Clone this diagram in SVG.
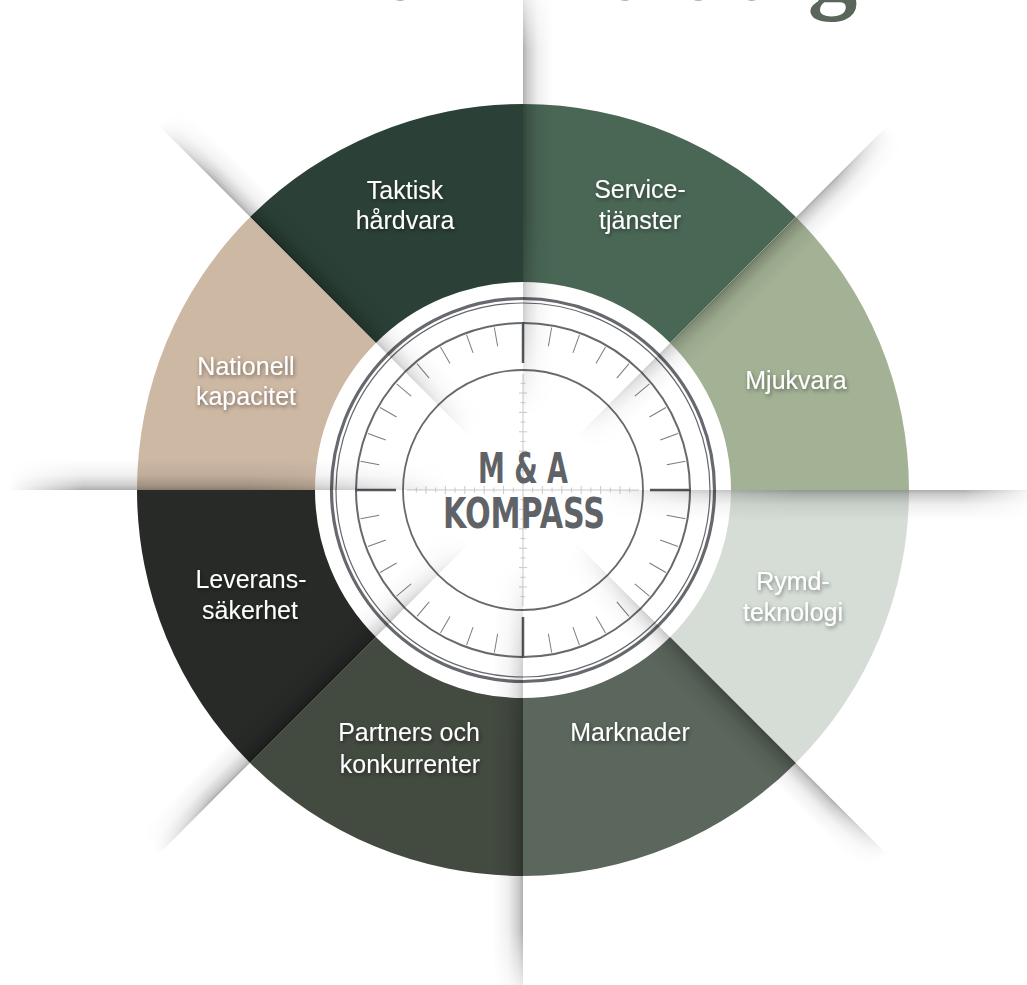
<svg xmlns="http://www.w3.org/2000/svg" xmlns:xlink="http://www.w3.org/1999/xlink" width="1027" height="985" viewBox="0 0 1027 985">
<style>
.lbl{font-family:"Liberation Sans",Arial,sans-serif;font-size:25px;fill:#ffffff;text-anchor:middle;filter:url(#ts)}
.ctr{font-family:"DejaVu Sans Condensed","DejaVu Sans",sans-serif;font-weight:bold;font-size:42px;fill:#5f6368;text-anchor:middle}
.ring{fill:none;stroke:#66696d}
.tick{stroke:#7a7c7f;stroke-width:1}
.card{stroke:#55595d;stroke-width:2.5}
.xh{stroke:#c9c9c9;stroke-width:1;fill:none}
</style>
<defs>
<filter id="ts" x="-20%" y="-40%" width="140%" height="180%">
<feDropShadow dx="1" dy="2" stdDeviation="2" flood-color="#000" flood-opacity="0.45"/>
</filter>
<linearGradient id="sg" x1="0" y1="0" x2="1" y2="0">
<stop offset="0" stop-color="#000" stop-opacity="0.32"/>
<stop offset="0.15" stop-color="#000" stop-opacity="0.2"/>
<stop offset="0.5" stop-color="#000" stop-opacity="0.06"/>
<stop offset="1" stop-color="#000" stop-opacity="0"/>
</linearGradient>
<linearGradient id="mg" x1="0" y1="0" x2="0" y2="1">
<stop offset="0" stop-color="#fff" stop-opacity="0"/>
<stop offset="0.17" stop-color="#fff" stop-opacity="1"/>
<stop offset="0.55" stop-color="#fff" stop-opacity="1"/>
<stop offset="0.8" stop-color="#fff" stop-opacity="0.55"/>
<stop offset="1" stop-color="#fff" stop-opacity="0"/>
</linearGradient>
<mask id="sm" maskContentUnits="objectBoundingBox">
<rect x="0" y="0" width="1" height="1" fill="url(#mg)"/>
</mask>
<rect id="strip" x="0" y="-515" width="30" height="440" fill="url(#sg)" mask="url(#sm)"/>
<line id="tk" class="tick" x1="0" y1="-146" x2="0" y2="-165"/>
<path id="xt" class="xh" d="M9.7 -2.5V2.5M19.4 -4V4M29.1 -2.5V2.5M38.8 -4V4M48.5 -2.5V2.5M58.2 -4V4M67.9 -2.5V2.5M77.6 -4V4M87.3 -2.5V2.5M97 -4V4M106.7 -2.5V2.5M-9.7 -2.5V2.5M-19.4 -4V4M-29.1 -2.5V2.5M-38.8 -4V4M-48.5 -2.5V2.5M-58.2 -4V4M-67.9 -2.5V2.5M-77.6 -4V4M-87.3 -2.5V2.5M-97 -4V4M-106.7 -2.5V2.5M-116 0H116"/>
</defs>

<rect x="0" y="0" width="1027" height="985" fill="#ffffff"/>

<g id="title">
<text x="532" y="-1" font-family="'Liberation Serif',serif" font-weight="bold" font-size="106" fill="#5b665a" text-anchor="middle" textLength="706" lengthAdjust="spacingAndGlyphs">Förvärvsstrategi</text>
</g>

<g id="sectors">
<g id="taktisk-hardvara">
<path d="M375.9 342.9L250.1 217.1A386 386 0 0 1 523 104L523 282A208 208 0 0 0 375.9 342.9Z" fill="#2b4137"/>
</g>
<g id="servicetjanster">
<path d="M523 282L523 104A386 386 0 0 1 795.9 217.1L670.1 342.9A208 208 0 0 0 523 282Z" fill="#4a6756"/>
</g>
<g id="mjukvara">
<path d="M670.1 342.9L795.9 217.1A386 386 0 0 1 909 490L731 490A208 208 0 0 0 670.1 342.9Z" fill="#a3b295"/>
</g>
<g id="rymdteknologi">
<path d="M731 490L909 490A386 386 0 0 1 795.9 762.9L670.1 637.1A208 208 0 0 0 731 490Z" fill="#d6ddd6"/>
</g>
<g id="marknader">
<path d="M670.1 637.1L795.9 762.9A386 386 0 0 1 523 876L523 698A208 208 0 0 0 670.1 637.1Z" fill="#5b665c"/>
</g>
<g id="partners">
<path d="M523 698L523 876A386 386 0 0 1 250.1 762.9L375.9 637.1A208 208 0 0 0 523 698Z" fill="#434a40"/>
</g>
<g id="leveranssakerhet">
<path d="M375.9 637.1L250.1 762.9A386 386 0 0 1 137 490L315 490A208 208 0 0 0 375.9 637.1Z" fill="#272a26"/>
</g>
<g id="nationell">
<path d="M315 490L137 490A386 386 0 0 1 250.1 217.1L375.9 342.9A208 208 0 0 0 315 490Z" fill="#cdb8a4"/>
</g>
</g>

<g id="compass" transform="translate(523,490)">
<circle class="ring" r="191.5" stroke-width="3.2"/>
<circle class="ring" r="187" stroke-width="1.2"/>
<circle class="ring" r="167" stroke-width="2"/>
<circle class="ring" r="120" stroke-width="1.8"/>
<g>
<use href="#tk" transform="rotate(10)"/><use href="#tk" transform="rotate(20)"/><use href="#tk" transform="rotate(30)"/><use href="#tk" transform="rotate(40)"/><use href="#tk" transform="rotate(50)"/><use href="#tk" transform="rotate(60)"/><use href="#tk" transform="rotate(70)"/><use href="#tk" transform="rotate(80)"/>
<use href="#tk" transform="rotate(100)"/><use href="#tk" transform="rotate(110)"/><use href="#tk" transform="rotate(120)"/><use href="#tk" transform="rotate(130)"/><use href="#tk" transform="rotate(140)"/><use href="#tk" transform="rotate(150)"/><use href="#tk" transform="rotate(160)"/><use href="#tk" transform="rotate(170)"/>
<use href="#tk" transform="rotate(190)"/><use href="#tk" transform="rotate(200)"/><use href="#tk" transform="rotate(210)"/><use href="#tk" transform="rotate(220)"/><use href="#tk" transform="rotate(230)"/><use href="#tk" transform="rotate(240)"/><use href="#tk" transform="rotate(250)"/><use href="#tk" transform="rotate(260)"/>
<use href="#tk" transform="rotate(280)"/><use href="#tk" transform="rotate(290)"/><use href="#tk" transform="rotate(300)"/><use href="#tk" transform="rotate(310)"/><use href="#tk" transform="rotate(320)"/><use href="#tk" transform="rotate(330)"/><use href="#tk" transform="rotate(340)"/><use href="#tk" transform="rotate(350)"/>
</g>
<path class="card" d="M0 -168V-127M0 168V127M-168 0H-127M168 0H127"/>
<use href="#xt"/>
<use href="#xt" transform="rotate(90)"/>
</g>

<g id="folds" transform="translate(523,490)">
<use href="#strip"/>
<use href="#strip" transform="rotate(45)"/>
<use href="#strip" transform="rotate(90)"/>
<use href="#strip" transform="rotate(135)"/>
<use href="#strip" transform="rotate(180)"/>
<use href="#strip" transform="rotate(225)"/>
<use href="#strip" transform="rotate(270)"/>
<use href="#strip" transform="rotate(315)"/>
</g>

<g id="center-label">
<text class="ctr" x="523" y="483" textLength="90" lengthAdjust="spacingAndGlyphs">M &amp; A</text>
<text class="ctr" x="524" y="528" textLength="162" lengthAdjust="spacingAndGlyphs">KOMPASS</text>
</g>

<g id="labels">
<text class="lbl" x="405" y="199">Taktisk</text>
<text class="lbl" x="405" y="229">hårdvara</text>
<text class="lbl" x="640" y="198">Service-</text>
<text class="lbl" x="640" y="229">tjänster</text>
<text class="lbl" x="796" y="389">Mjukvara</text>
<text class="lbl" x="793" y="590">Rymd-</text>
<text class="lbl" x="793" y="621">teknologi</text>
<text class="lbl" x="630" y="741">Marknader</text>
<text class="lbl" x="409" y="741">Partners och</text>
<text class="lbl" x="410" y="773">konkurrenter</text>
<text class="lbl" x="251" y="588">Leverans-</text>
<text class="lbl" x="250" y="619">säkerhet</text>
<text class="lbl" x="246" y="375">Nationell</text>
<text class="lbl" x="246" y="405">kapacitet</text>
</g>
</svg>
